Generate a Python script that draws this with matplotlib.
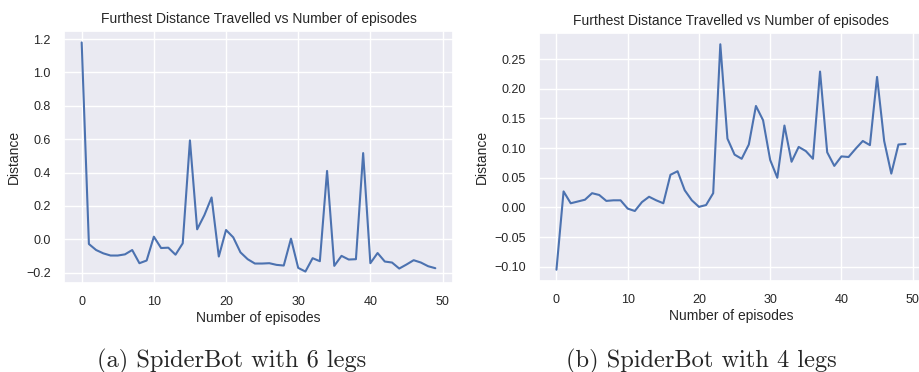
import numpy as np
import matplotlib
matplotlib.use("Agg")
import matplotlib.pyplot as plt
import seaborn as sns

# furthest distance per episode
episodes = np.arange(50)
dist_6_legs = [1.18, -0.028, -0.064, -0.084, -0.097, -0.097, -0.090, -0.064, -0.143, -0.127,
               0.016, -0.052, -0.050, -0.092, -0.024, 0.593, 0.060, 0.145, 0.251, -0.103,
               0.056, 0.012, -0.078, -0.119, -0.145, -0.145, -0.143, -0.153, -0.157, 0.004,
               -0.171, -0.193, -0.113, -0.131, 0.410, -0.159, -0.099, -0.121, -0.119, 0.517,
               -0.143, -0.082, -0.133, -0.139, -0.175, -0.151, -0.125, -0.139, -0.161, -0.173]
dist_4_legs = [-0.105, 0.027, 0.007, 0.010, 0.013, 0.024, 0.021, 0.011, 0.012, 0.012,
               -0.002, -0.006, 0.009, 0.018, 0.012, 0.007, 0.055, 0.061, 0.029, 0.012,
               0.001, 0.004, 0.024, 0.275, 0.116, 0.089, 0.082, 0.106, 0.171, 0.147,
               0.080, 0.050, 0.138, 0.077, 0.102, 0.095, 0.082, 0.229, 0.093, 0.070,
               0.086, 0.085, 0.099, 0.112, 0.105, 0.220, 0.112, 0.057, 0.106, 0.107]
captions = ["(a) SpiderBot with 6 legs", "(b) SpiderBot with 4 legs"]

sns.set_theme(style="darkgrid")
plt.rcParams["font.family"] = ["Liberation Sans", "DejaVu Sans"]

W, H = 920, 372
fig = plt.figure(figsize=(W / 100, H / 100), dpi=100)

# axes boxes in pixels (left, top, right, bottom) and caption centre x
boxes = [(64, 31, 453, 283), (539, 33, 923, 281)]
cap_x = [232, 701]

for (l, t, r, b), ys, cap, cx in zip(boxes, [dist_6_legs, dist_4_legs], captions, cap_x):
    ax = fig.add_axes([l / W, 1 - b / H, (r - l) / W, (b - t) / H])
    ax.plot(episodes, ys, color="#4C72B0", linewidth=1.5)
    ax.set_title("Furthest Distance Travelled vs Number of episodes", fontsize=10, pad=6)
    ax.set_xlabel("Number of episodes", fontsize=10, labelpad=2)
    ax.set_ylabel("Distance", fontsize=10)
    ax.tick_params(labelsize=9)
    fig.text(cx / W, 1 - 361 / H, cap, family="cmr10", fontsize=17.6,
             ha="center", va="center")

fig.savefig("out.png", dpi=100)
